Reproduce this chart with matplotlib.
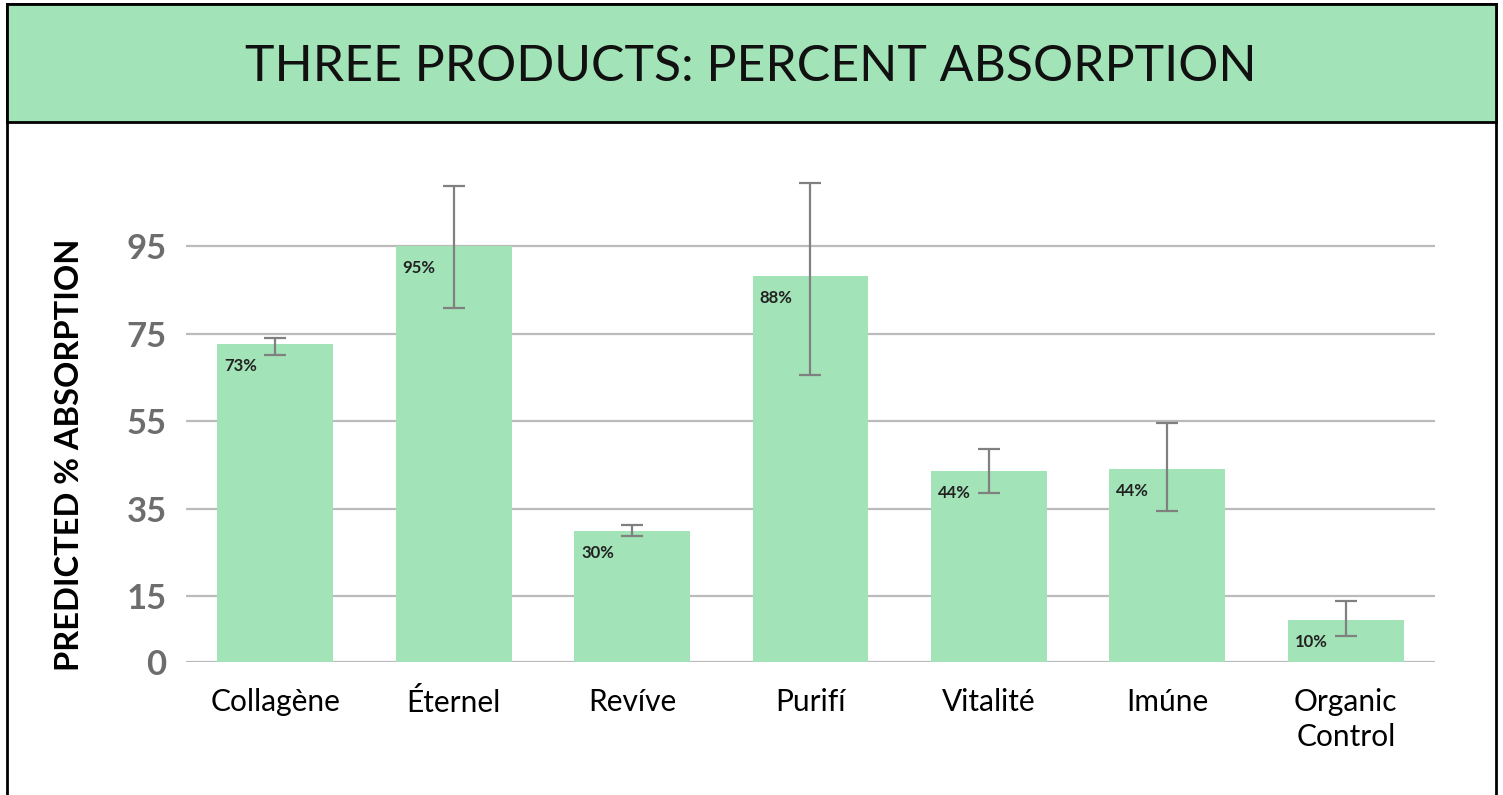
import matplotlib.pyplot as plt
from matplotlib.patches import Rectangle
import numpy as np

plt.rcParams['font.family'] = ['Lato', 'DejaVu Sans']

products = ['Collagène', 'Éternel', 'Revíve', 'Purifí', 'Vitalité', 'Imúne', 'Organic\nControl']
absorption = [73, 95, 30, 88, 44, 44, 10]
bar_heights = [72.6, 95, 29.9, 88.1, 43.6, 44.1, 9.6]
errors = [2.0, 14.0, 1.25, 22.0, 5.0, 10.0, 4.0]
err_centers = [72.1, 94.75, 30.0, 87.5, 43.7, 44.5, 9.9]
yticks = [0, 15, 35, 55, 75, 95]

green = '#a2e3b8'
W, H = 1503, 795

fig = plt.figure(figsize=(W / 100, H / 100), dpi=100)

# frame + title band
fig.add_artist(Rectangle((7 / W, -0.01), (1496 - 7) / W, (H - 4) / H + 0.01,
                         transform=fig.transFigure, facecolor='white',
                         edgecolor='black', lw=2, zorder=0))
fig.add_artist(Rectangle((7 / W, (H - 122) / H), (1496 - 7) / W, 118 / H,
                         transform=fig.transFigure, facecolor=green,
                         edgecolor='black', lw=2, zorder=1))
fig.text(751 / W, (H - 67) / H, 'THREE PRODUCTS: PERCENT ABSORPTION',
         ha='center', va='center', fontsize=36, fontweight='normal', color='#111111')

ax = fig.add_axes([186 / W, 133 / H, (1435 - 186) / W, (654 - 133) / H])
x = np.arange(len(products))
ax.bar(x, bar_heights, width=0.65, color=green, zorder=2)
ax.errorbar(x, err_centers, yerr=errors, fmt='none', ecolor='#808080',
            elinewidth=1.6, capsize=8, capthick=1.6, zorder=3)

for xi, h, v in zip(x, bar_heights, absorption):
    ax.annotate(f'{v}%', (xi - 0.325, h), xytext=(5, -10), textcoords='offset points',
                ha='left', va='top', fontsize=12, fontweight='bold', color='#222222', zorder=4)

ax.set_xlim(-0.5, len(products) - 0.5)
ax.set_ylim(0, 119)
ax.set_yticks(yticks)
ax.set_yticklabels([str(t) for t in yticks], fontsize=25, fontweight='bold', color='#6d6d6d')
ax.set_xticks(x)
ax.set_xticklabels(products, fontsize=21.5, color='black', linespacing=1.3)
ax.tick_params(axis='both', length=0)
ax.tick_params(axis='y', pad=14)
ax.tick_params(axis='x', pad=19)
ax.grid(axis='y', color='#bbbbbb', linewidth=1.6, zorder=1)
ax.set_axisbelow(True)
for s in ax.spines.values():
    s.set_visible(False)
ax.patch.set_alpha(0)

fig.text(70 / W, (H - 455) / H, 'PREDICTED % ABSORPTION', rotation=90,
         ha='center', va='center', fontsize=23.5, fontweight='bold', color='black')

fig.savefig('out.png', dpi=100)
